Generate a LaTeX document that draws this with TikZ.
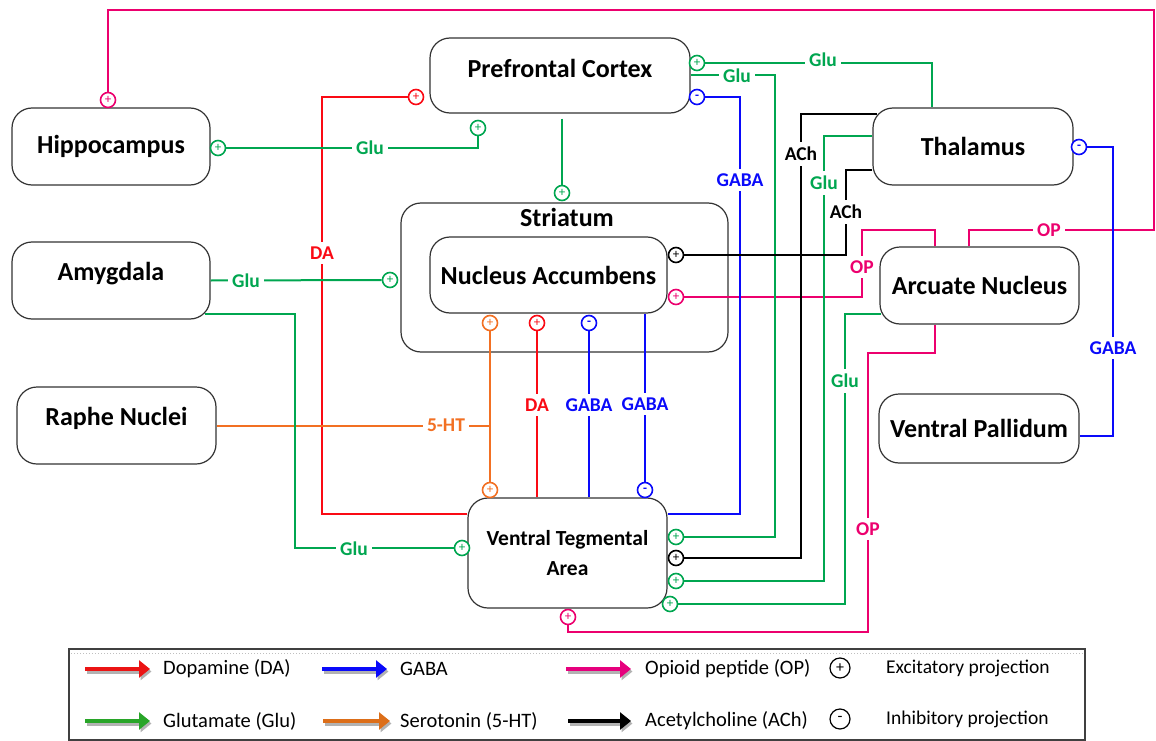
\documentclass[tikz,border=0pt]{standalone}
\usepackage{fontspec}
\setmainfont{Carlito}
\usetikzlibrary{calc,arrows.meta}

\definecolor{dared}{RGB}{250,10,20}
\definecolor{gababl}{RGB}{10,10,250}
\definecolor{glugr}{RGB}{0,166,80}
\definecolor{oppk}{RGB}{236,0,110}
\definecolor{htor}{RGB}{242,112,35}
\definecolor{achbk}{RGB}{0,0,0}
\definecolor{legrd}{RGB}{235,20,20}
\definecolor{leggr}{RGB}{40,165,40}
\definecolor{legor}{RGB}{220,110,25}
\definecolor{legpk}{RGB}{230,0,125}

\newcommand{\liftup}[1]{\raisebox{7pt}[\height][\depth]{#1}}

\tikzset{
	region/.style={draw=black!80, line width=1.2pt, rounded corners=20pt, fill=white,
		inner sep=2pt, font=\fontsize{26}{30}\selectfont\bfseries},
	title/.style={inner sep=0pt, font=\fontsize{26}{30}\selectfont\bfseries},
	syn/.style={circle, draw=#1, text=#1, fill=white, line width=1.6pt, inner sep=0pt,
		minimum size=15pt, font=\fontsize{13}{13}\selectfont},
	dawire/.style={draw=dared, line width=2pt},
	gabawire/.style={draw=gababl, line width=2pt},
	gluwire/.style={draw=glugr, line width=2pt},
	opwire/.style={draw=oppk, line width=2pt},
	htwire/.style={draw=htor, line width=2pt},
	achwire/.style={draw=achbk, line width=2pt},
	tag/.style={fill=white, inner xsep=4pt, inner ysep=5pt, text=#1,
		font=\fontsize{19.5}{20}\selectfont\bfseries},
	legtext/.style={inner sep=0pt, anchor=west, font=\fontsize{20.5}{24}\selectfont},
	legnote/.style={inner sep=0pt, anchor=west, font=\fontsize{19.5}{22}\selectfont},
	legsyn/.style={circle, draw=black, line width=1.2pt, inner sep=0pt, minimum size=20pt,
		font=\fontsize{16}{16}\selectfont},
	legarrow/.style={draw=#1, line width=4.5pt, -{Triangle[length=11pt,width=17pt]}}
}

\begin{document}
\begin{tikzpicture}[x=1pt, y=-1pt]
	\useasboundingbox (0,0) rectangle (1156,741);

	% brain regions
	\node[region, minimum width=260pt, minimum height=75pt] (pfc) at (560,75.5) {\liftup{Prefrontal Cortex}};
	\node[region, minimum width=198pt, minimum height=77pt] (hip) at (111,146.5) {Hippocampus};
	\node[region, minimum width=198pt, minimum height=77pt] (amy) at (111,280.5) {\liftup{Amygdala}};
	\node[region, minimum width=199pt, minimum height=77pt] (raphe) at (116.5,425.5) {\liftup{Raphe Nuclei}};
	\node[region, minimum width=327pt, minimum height=149pt] (str) at (564.5,277.5) {};
	\node[title] (strname) at (567,217) {Striatum};
	\node[region, minimum width=237pt, minimum height=76pt] (nac) at (548.5,275) {Nucleus Accumbens};
	\node[region, minimum width=200pt, minimum height=77pt] (thal) at (973,146.5) {Thalamus};
	\node[region, minimum width=199pt, minimum height=77pt] (arc) at (979.5,285.5) {Arcuate Nucleus};
	\node[region, minimum width=200pt, minimum height=69pt] (vp) at (979,428.5) {Ventral Pallidum};
	\node[region, minimum width=199pt, minimum height=110pt, align=center,
		font=\fontsize{21.5}{30}\selectfont\bfseries] (vta) at (567.5,553) {Ventral Tegmental\\Area};

	% synapse marks
	\node[syn=oppk] (op1) at (108,100) {+};
	\node[syn=dared] (da1) at (416,97) {+};
	\node[syn=glugr] (glu1) at (218,148) {+};
	\node[syn=glugr] (glu2) at (478,128) {+};
	\node[syn=glugr] (glu3) at (562,193) {+};
	\node[syn=glugr] (glu4) at (390,280) {+};
	\node[syn=htor] (ht1) at (490,323) {+};
	\node[syn=dared] (da2) at (537,323) {+};
	\node[syn=gababl] (gaba1) at (589,323) {\textbf{-}};
	\node[syn=achbk] (ach2) at (676,255) {+};
	\node[syn=oppk] (op2) at (676,297) {+};
	\node[syn=glugr] (glu6) at (697,63) {+};
	\node[syn=gababl] (gaba3) at (697,97) {\textbf{-}};
	\node[syn=gababl] (gaba4) at (1079,147) {\textbf{-}};
	\node[syn=htor] (ht2) at (490,490) {+};
	\node[syn=gababl] (gaba2) at (645,490) {\textbf{-}};
	\node[syn=glugr] (glu5) at (462,548) {+};
	\node[syn=oppk] (op3) at (568,617) {+};
	\node[syn=glugr] (glu7) at (676,537) {+};
	\node[syn=achbk] (ach1) at (676,558) {+};
	\node[syn=glugr] (glu8) at (676,581) {+};
	\node[syn=glugr] (glu9) at (670,604) {+};

	% projections
	\draw[opwire] (arc.north -| 969,0) |- (1154,230) |- (108,10) -- (op1);
	\draw[opwire] (arc.north -| 935,0) |- (862,230) |- (op2);
	\draw[opwire] (arc.south -| 935,0) |- (868,353) |- (568,632) -- (op3);
	\draw[dawire] (vta.west |- 0,514) -| (322,97) -- (da1);
	\draw[dawire] (vta.north -| da2) -- (da2);
	\draw[htwire] (raphe.east) -- (raphe.east -| ht1);
	\draw[htwire] (ht1) -- (ht2);
	\draw[gabawire] (gaba1) -- (vta.north -| gaba1);
	\draw[gabawire] (nac.south -| gaba2) -- (gaba2);
	\draw[gabawire] (gaba3) -| (740,514) -- (vta.east |- 0,514);
	\draw[gabawire] (gaba4) -| (1113,436) -- (vp.east |- 0,436);
	\draw[gluwire] (glu1) -| (glu2);
	\draw[gluwire] ($(pfc.south -| glu3)+(0,5)$) -- (glu3);
	\draw[gluwire] (amy.east) -- (glu4);
	\draw[gluwire] ($(amy.south east)+(-6,-6)$) -| (295,548) -- (glu5);
	\draw[gluwire] (glu6) -| (thal.north -| 932,0);
	\draw[gluwire] (pfc.east) -| (775,537) -- (glu7);
	\draw[gluwire] (thal.west |- 0,136) -| (824,581) -- (glu8);
	\draw[gluwire] ($(arc.west |- 0,314)+(2,0)$) -| (845,604) -- (glu9);
	\draw[achwire] ($(thal.west |- 0,114)+(5,0)$) -| (801,558) -- (ach1);
	\draw[achwire] (thal.west |- 0,170) -| (846,255) -- (ach2);

	% transmitter labels
	\node[tag=oppk] (lop1) at (1049,230) {OP};
	\node[tag=oppk] (lop2) at (862,267) {OP};
	\node[tag=oppk] (lop3) at (868,529) {OP};
	\node[tag=dared] (lda1) at (322,253) {DA};
	\node[tag=dared] (lda2) at (537,405) {DA};
	\node[tag=htor] (lht) at (446,425) {5-HT};
	\node[tag=gababl] (lgaba1) at (589,405) {GABA};
	\node[tag=gababl] (lgaba2) at (645,404) {GABA};
	\node[tag=gababl] (lgaba3) at (740,180) {GABA};
	\node[tag=gababl] (lgaba4) at (1113,348) {GABA};
	\node[tag=glugr] (lglu1) at (370,148) {Glu};
	\node[tag=glugr] (lglu4) at (246,281) {Glu};
	\node[tag=glugr] (lglu5) at (354,549) {Glu};
	\node[tag=glugr] (lglu6) at (823,60) {Glu};
	\node[tag=glugr] (lglu7) at (737,76) {Glu};
	\node[tag=glugr] (lglu8) at (824,183) {Glu};
	\node[tag=glugr] (lglu9) at (845,381) {Glu};
	\node[tag=achbk] (lach1) at (801,154) {ACh};
	\node[tag=achbk] (lach2) at (846,212) {ACh};

	% legend
	\draw[black!75, line width=1.2pt] (69,649) rectangle (1085,740);
	\draw[black!25, line width=1pt, dotted] (71,653) -- (1083,653);
	\node[legtext] (ldopa) at (163,669) {Dopamine (DA)};
	\node[legtext] (lgaba) at (400,669) {GABA};
	\node[legtext] (lopio) at (645,669) {Opioid peptide (OP)};
	\node[legtext] (lglut) at (163,721) {Glutamate (Glu)};
	\node[legtext] (lsero) at (400,721) {Serotonin (5-HT)};
	\node[legtext] (lacet) at (645,721) {Acetylcholine (ACh)};
	\node[legsyn] (lplus) at (840,668) {+};
	\node[legsyn] (lminus) at (840,719) {-};
	\node[legnote] (lexc) at (886,668) {Excitatory projection};
	\node[legnote] (linh) at (886,719) {Inhibitory projection};

	\draw[legarrow=black!30] ([xshift=-76.5pt, yshift=-2.5pt]ldopa.west) -- ([xshift=-11.5pt, yshift=-2.5pt]ldopa.west);
	\draw[legarrow=legrd] ([xshift=-78pt]ldopa.west) -- ([xshift=-13pt]ldopa.west);
	\draw[legarrow=black!30] ([xshift=-76.5pt, yshift=-2.5pt]lgaba.west) -- ([xshift=-11.5pt, yshift=-2.5pt]lgaba.west);
	\draw[legarrow=gababl] ([xshift=-78pt]lgaba.west) -- ([xshift=-13pt]lgaba.west);
	\draw[legarrow=black!30] ([xshift=-77.5pt, yshift=-2.5pt]lopio.west) -- ([xshift=-12.5pt, yshift=-2.5pt]lopio.west);
	\draw[legarrow=legpk] ([xshift=-79pt]lopio.west) -- ([xshift=-14pt]lopio.west);
	\draw[legarrow=black!30] ([xshift=-76.5pt, yshift=-2.5pt]lglut.west) -- ([xshift=-11.5pt, yshift=-2.5pt]lglut.west);
	\draw[legarrow=leggr] ([xshift=-78pt]lglut.west) -- ([xshift=-13pt]lglut.west);
	\draw[legarrow=black!30] ([xshift=-75.5pt, yshift=-2.5pt]lsero.west) -- ([xshift=-8.5pt, yshift=-2.5pt]lsero.west);
	\draw[legarrow=legor] ([xshift=-77pt]lsero.west) -- ([xshift=-10pt]lsero.west);
	\draw[legarrow=black!30] ([xshift=-75.5pt, yshift=-2.5pt]lacet.west) -- ([xshift=-12.5pt, yshift=-2.5pt]lacet.west);
	\draw[legarrow=black] ([xshift=-77pt]lacet.west) -- ([xshift=-14pt]lacet.west);
\end{tikzpicture}
\end{document}
